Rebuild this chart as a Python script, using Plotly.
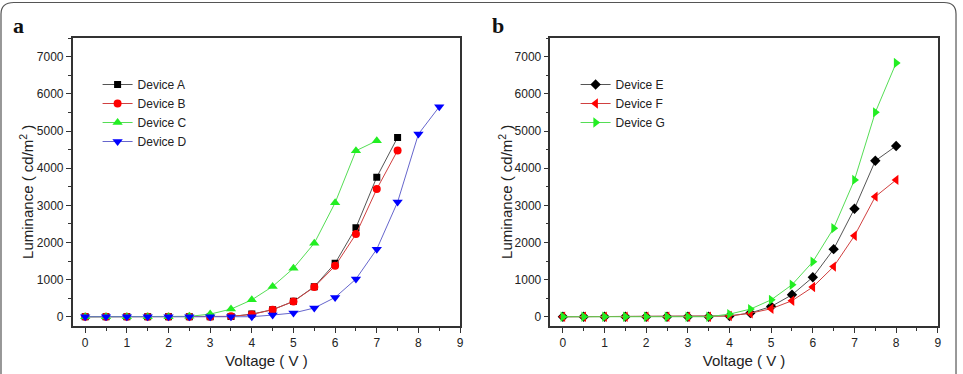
import plotly.graph_objects as go

# ---- data ----
volt_a = [0, 0.5, 1, 1.5, 2, 2.5, 3, 3.5, 4, 4.5, 5, 5.5, 6, 6.5, 7, 7.5]
dev_a = [0, 0, 0, 0, 0, 0, 0, 5, 70, 190, 415, 810, 1440, 2400, 3760, 4830]
volt_b = [0, 0.5, 1, 1.5, 2, 2.5, 3, 3.5, 4, 4.5, 5, 5.5, 6, 6.5, 7, 7.5]
dev_b = [0, 0, 0, 0, 0, 0, 0, 10, 60, 190, 410, 800, 1370, 2225, 3440, 4480]
volt_c = [0, 0.5, 1, 1.5, 2, 2.5, 3, 3.5, 4, 4.5, 5, 5.5, 6, 6.5, 7]
dev_c = [0, 0, 0, 0, 0, 10, 70, 205, 455, 815, 1305, 1980, 3070, 4470, 4740]
volt_d = [0, 0.5, 1, 1.5, 2, 2.5, 3, 3.5, 4, 4.5, 5, 5.5, 6, 6.5, 7, 7.5, 8, 8.5]
dev_d = [0, 0, 0, 0, 0, 0, 0, 0, 0, 45, 100, 235, 520, 1015, 1820, 3090, 4920, 5655]

volt_efg = [0, 0.5, 1, 1.5, 2, 2.5, 3, 3.5, 4, 4.5, 5, 5.5, 6, 6.5, 7, 7.5, 8]
dev_e = [0, 0, 0, 0, 0, 0, 0, 0, 20, 100, 275, 590, 1065, 1820, 2910, 4200, 4600]
dev_f = [0, 0, 0, 0, 0, 0, 0, 0, 20, 95, 215, 430, 800, 1350, 2180, 3235, 3685]
dev_g = [0, 0, 0, 0, 0, 0, 0, 0, 70, 205, 455, 860, 1480, 2385, 3685, 5505, 6835]

x_ticks = [0, 1, 2, 3, 4, 5, 6, 7, 8, 9]
y_ticks = [0, 1000, 2000, 3000, 4000, 5000, 6000, 7000]

W, H = 963, 374
fig = go.Figure()

def add(x, y, name, col, lcol, sym, xa, ya, leg, size=7):
    fig.add_trace(go.Scatter(
        x=x, y=y, name=name, mode="lines+markers",
        line=dict(color=lcol, width=1),
        marker=dict(color=col, symbol=sym, size=size),
        xaxis=xa, yaxis=ya, legend=leg))

add(volt_a, dev_a, "Device A", "#000000", "#555555", "square", "x", "y", "legend", 7)
add(volt_b, dev_b, "Device B", "#ff0000", "#d04040", "circle", "x", "y", "legend", 8)
add(volt_c, dev_c, "Device C", "#22ee22", "#55dd55", "triangle-up", "x", "y", "legend", 9)
add(volt_d, dev_d, "Device D", "#0000ff", "#6666cc", "triangle-down", "x", "y", "legend", 9)
add(volt_efg, dev_e, "Device E", "#000000", "#555555", "diamond", "x2", "y2", "legend2", 8)
add(volt_efg, dev_f, "Device F", "#ff0000", "#d04040", "triangle-left", "x2", "y2", "legend2", 9)
add(volt_efg, dev_g, "Device G", "#22ee22", "#55dd55", "triangle-right", "x2", "y2", "legend2", 9)

ydom = [1 - 326 / H, 1 - 38.3 / H]
axfont = dict(family="Arial, Liberation Sans, sans-serif", size=12, color="#222222")
titlefont = dict(family="Arial, Liberation Sans, sans-serif", size=15, color="#222222")

def xaxis(dom, anchor):
    return dict(domain=dom, anchor=anchor, range=[-0.3, 9.0], tickvals=x_ticks,
                ticks="outside", ticklen=5, tickwidth=1, tickcolor="#333",
                minor=dict(dtick=0.5, tick0=0, ticks="outside", ticklen=3, tickcolor="#333"),
                showline=True, linecolor="#333", linewidth=1.5, mirror=True,
                showgrid=False, zeroline=False, tickfont=axfont,
                title=dict(text="Voltage ( V )", font=titlefont, standoff=6))

def yaxis(anchor):
    return dict(domain=ydom, anchor=anchor, range=[-250, 7500], tickvals=y_ticks,
                ticks="outside", ticklen=5, tickwidth=1, tickcolor="#333",
                minor=dict(dtick=500, tick0=0, ticks="outside", ticklen=3, tickcolor="#333"),
                showline=True, linecolor="#333", linewidth=1.5, mirror=True,
                showgrid=False, zeroline=False, tickfont=axfont)

legfont = dict(family="Arial, Liberation Sans, sans-serif", size=12, color="#222222")

def ytitle(xpx):
    return dict(text="Luminance ( cd/m<sup>2</sup> )", x=xpx / W, y=1 - 192 / H,
                xref="paper", yref="paper", xanchor="center", yanchor="middle",
                textangle=-90, showarrow=False, font=titlefont)

fig.update_layout(
    width=W, height=H,
    margin=dict(l=0, r=0, t=0, b=0),
    paper_bgcolor="white", plot_bgcolor="white",
    xaxis=xaxis([73 / W, 462 / W], "y"),
    yaxis=yaxis("x"),
    xaxis2=xaxis([552.7 / W, 941.7 / W], "y2"),
    yaxis2=yaxis("x2"),
    legend=dict(x=98 / W, y=1 - 70 / H, xanchor="left", yanchor="top",
                bgcolor="rgba(0,0,0,0)", font=legfont, tracegroupgap=0),
    legend2=dict(x=578 / W, y=1 - 70 / H, xanchor="left", yanchor="top",
                 bgcolor="rgba(0,0,0,0)", font=legfont, tracegroupgap=0),
    annotations=[
        dict(text="<b>a</b>", x=11 / W, y=1 - 25 / H, xref="paper", yref="paper",
             xanchor="left", yanchor="middle", showarrow=False,
             font=dict(family="Liberation Serif, Times New Roman, serif", size=22, color="#111")),
        dict(text="<b>b</b>", x=492 / W, y=1 - 25 / H, xref="paper", yref="paper",
             xanchor="left", yanchor="middle", showarrow=False,
             font=dict(family="Liberation Serif, Times New Roman, serif", size=22, color="#111")),
        ytitle(26),
        ytitle(507),
    ],
    shapes=[dict(type="path", xref="paper", yref="paper",
                 path=f"M {1/W},{1-14/H} Q {1/W},{1-2.5/H} {14/W},{1-2.5/H} L {948/W},{1-2.5/H} "
                      f"Q {960/W},{1-2.5/H} {960/W},{1-14/H} L {960/W},{-0.05} L {1/W},{-0.05} Z",
                 line=dict(color="#555", width=1.2), fillcolor="rgba(0,0,0,0)", layer="below")],
)

fig.write_html("out.html")
